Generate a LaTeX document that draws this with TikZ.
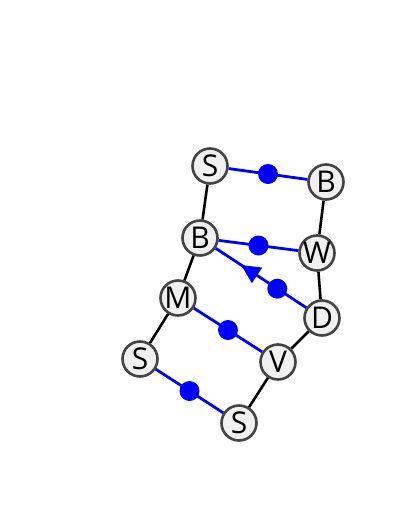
\documentclass[tikz,border=0pt]{standalone}
\usepackage{fontspec}
\setmainfont{Open Sans}
\usetikzlibrary{arrows.meta,decorations.markings}
\definecolor{atomfill}{HTML}{F0F0F0}
\definecolor{atomline}{HTML}{444444}

\begin{document}
\begin{tikzpicture}[x=1pt, y=-1pt,
    atom/.style={circle, draw=atomline, fill=atomfill, line width=2.6pt, minimum size=35pt, inner sep=0pt, font=\fontsize{30}{30}\selectfont},
    bond/.style={black, line width=2.6pt},
    link/.style={blue, line width=2.8pt},
    dot/.style={circle, fill=blue, inner sep=0pt, minimum size=20pt}]
        \useasboundingbox (0,0) rectangle (400,523);

        % Atoms
        \node[atom] (s1) at (210,166) {S};
        \node[atom] (b1) at (326,182) {B};
        \node[atom] (b2) at (200,238) {B};
        \node[atom] (w) at (317,253) {W};
        \node[atom] (m) at (178,298) {M};
        \node[atom] (d) at (322,318) {D};
        \node[atom] (s2) at (140,359) {S};
        \node[atom] (v) at (278,362) {V};
        \node[atom] (s3) at (239,423) {S};

        % Backbone
        \draw[bond] (s1) -- (b2); % left strand
        \draw[bond] (b2) -- (m);
        \draw[bond] (m) -- (s2);
        \draw[bond] (b1) -- (w); % right strand
        \draw[bond] (w) -- (d);
        \draw[bond] (d) -- (v);
        \draw[bond] (v) -- (s3);

        % Links
        \draw[link] (s1) -- node[dot] {} (b1);
        \draw[link] (b2) -- node[dot] {} (w);
        \draw[link, postaction={decorate}, decoration={markings, mark=at position 0.72 with {\arrow{Triangle[length=19pt, width=18pt]}}}] (d) -- node[dot, pos=0.32] {} (b2);
        \draw[link] (m) -- node[dot] {} (v);
        \draw[link] (s2) -- node[dot] {} (s3);
    \end{tikzpicture}
\end{document}
